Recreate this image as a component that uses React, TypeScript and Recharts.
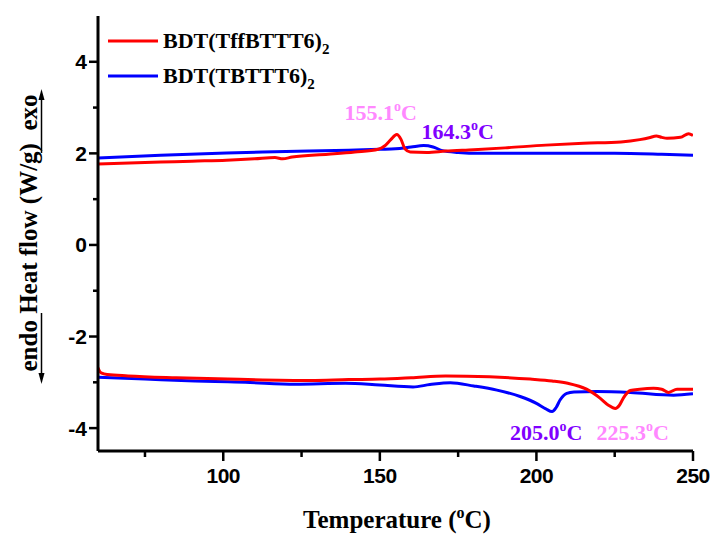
import { LineChart, Line, XAxis, YAxis, Legend, ReferenceDot } from 'recharts';

// heating scan (upper curves), exo up
const upRedT = [60, 70, 80, 90, 101, 110, 116.5, 119, 122, 133.5, 142, 149.5, 151.5, 153.5, 155.4, 156.8, 158, 159.7, 165, 171, 180, 190, 203, 215, 227, 233, 236, 238.3, 240, 241.7, 246, 248.6, 250];
const upRedV = [1.77, 1.79, 1.81, 1.83, 1.85, 1.88, 1.91, 1.88, 1.92, 1.98, 2.03, 2.09, 2.16, 2.3, 2.41, 2.3, 2.1, 2.03, 2.02, 2.05, 2.08, 2.12, 2.18, 2.22, 2.25, 2.3, 2.34, 2.38, 2.35, 2.33, 2.35, 2.43, 2.39];
const upBlueT = [60, 80, 101, 120, 140, 150, 155, 160, 164, 167, 170, 175, 182, 200, 225, 240, 250];
const upBlueV = [1.9, 1.96, 2.01, 2.04, 2.07, 2.09, 2.1, 2.14, 2.17, 2.14, 2.06, 2.02, 2.0, 2.0, 2.0, 1.98, 1.96];

// cooling scan (lower curves)
const downRedT = [60, 60.5, 61.2, 63, 69.6, 85, 101.5, 128, 140, 150, 160, 171, 185, 198, 205, 210, 216, 220.4, 223, 225.2, 226.5, 227.8, 230, 233, 237.4, 240, 242.2, 244.9, 250];
const downRedV = [-2.68, -2.76, -2.8, -2.83, -2.86, -2.9, -2.93, -2.96, -2.94, -2.93, -2.9, -2.86, -2.88, -2.93, -2.97, -3.02, -3.15, -3.35, -3.5, -3.57, -3.5, -3.34, -3.18, -3.15, -3.13, -3.15, -3.22, -3.15, -3.15];
const downBlueT = [60, 75, 91, 101.5, 107, 123, 139, 150, 160.6, 166, 172.5, 180, 187.4, 194.8, 200, 203, 205, 206.3, 207.6, 209.7, 212, 219.3, 230, 243.8, 250];
const downBlueV = [-2.89, -2.93, -2.97, -2.99, -3.0, -3.04, -3.02, -3.06, -3.1, -3.05, -3.01, -3.08, -3.17, -3.31, -3.46, -3.58, -3.64, -3.55, -3.38, -3.24, -3.21, -3.2, -3.22, -3.28, -3.25];

const seriesNames = ['BDT(TffBTTT6)', 'BDT(TBTTT6)'];

const peakTemps = [155.1, 164.3, 205.0, 225.3];
const peakValues = [2.41, 2.17, -3.64, -3.57];

const xTicks = [75, 100, 125, 150, 175, 200, 225, 250];
const xMajor = [100, 150, 200, 250];
const yTicks = [-4, -3, -2, -1, 0, 1, 2, 3, 4];
const yMajor = [-4, -2, 0, 2, 4];
const frameTicks = [1, 2, 3, 4, 5, 6, 7, 8, 9];

const zip = (t: number[], v: number[]) => t.map((x, i) => ({ t: x, v: v[i] }));

const SERIF = '"Liberation Serif", "Times New Roman", serif';
const SANS = '"Liberation Sans", Arial, sans-serif';
const RED = '#ff0000';
const BLUE = '#0000ff';
const PINK = '#ff88ff';
const PURPLE = '#8000ff';

const BottomTick = (props: any) => {
  const { x, y, payload } = props;
  const major = xMajor.includes(payload.value);
  return (
    <g>
      <line x1={x} y1={y} x2={x} y2={y + (major ? 10 : 6)} stroke="#000" strokeWidth={2.5} />
      {major && (
        <text x={x} y={y + 32} textAnchor="middle" fontFamily={SANS} fontWeight="bold" fontSize={21} letterSpacing={-0.5} fill="#000">
          {payload.value}
        </text>
      )}
    </g>
  );
};

const LeftTick = (props: any) => {
  const { x, y, payload } = props;
  const major = yMajor.includes(payload.value);
  return (
    <g>
      <line x1={x} y1={y} x2={x - (major ? 9 : 5)} y2={y} stroke="#000" strokeWidth={2.5} />
      {major && (
        <text x={x - 11} y={y + 7.5} textAnchor="end" fontFamily={SANS} fontWeight="bold" fontSize={21} fill="#000">
          {payload.value}
        </text>
      )}
    </g>
  );
};

const TopTick = (props: any) => (
  <line x1={props.x} y1={props.y} x2={props.x} y2={props.y + 5} stroke="#000" strokeWidth={2.5} />
);

const RightTick = (props: any) => (
  <line x1={props.x} y1={props.y} x2={props.x - 5} y2={props.y} stroke="#000" strokeWidth={2.5} />
);

const YTitle = () => (
  <g>
    <text
      x={37}
      y={233}
      transform="rotate(-90 37 233)"
      textAnchor="middle"
      fontFamily={SERIF}
      fontWeight="bold"
      fontSize={25}
      fill="#000"
      style={{ whiteSpace: 'pre' }}
    >
      endo Heat flow (W/g)  exo
    </text>
    <line x1={41.5} y1={153} x2={41.5} y2={98} stroke="#000" strokeWidth={1.5} />
    <polygon points="41.5,89 38.5,100 44.5,100" fill="#000" />
    <line x1={41.5} y1={313} x2={41.5} y2={374} stroke="#000" strokeWidth={1.5} />
    <polygon points="41.5,384 38.5,373 44.5,373" fill="#000" />
  </g>
);

const XTitle = () => (
  <text x={397} y={528} textAnchor="middle" fontFamily={SERIF} fontWeight="bold" fontSize={25} fill="#000">
    Temperature (
    <tspan fontSize={16} dy={-10}>o</tspan>
    <tspan dy={10}>C)</tspan>
  </text>
);

const LegendBox = () => (
  <svg width={300} height={80} style={{ overflow: 'visible' }}>
    {[RED, BLUE].map((c, i) => (
      <g key={c}>
        <line x1={5} y1={11 + i * 35} x2={55} y2={11 + i * 35} stroke={c} strokeWidth={3} />
        <text x={60} y={18 + i * 35} fontFamily={SERIF} fontWeight="bold" fontSize={22} fill="#000">
          {seriesNames[i]}
          <tspan fontSize={15} dy={6}>2</tspan>
        </text>
      </g>
    ))}
  </svg>
);

const peakLabel = (temp: number, color: string, dx: number, dy: number) => (p: any) => {
  const vb = p.viewBox || {};
  const cx = (vb.x ?? 0) + (vb.width ?? 0) / 2;
  const cy = (vb.y ?? 0) + (vb.height ?? 0) / 2;
  return (
    <text x={cx + dx} y={cy + dy} textAnchor="middle" fontFamily={SERIF} fontWeight="bold" fontSize={22} fill={color}>
      {temp.toFixed(1)}
      <tspan fontSize={14} dy={-9}>o</tspan>
      <tspan dy={9}>C</tspan>
    </text>
  );
};

const peakStyle = [
  { color: PINK, dx: -15, dy: -15 },
  { color: PURPLE, dx: 33, dy: -7 },
  { color: PURPLE, dx: -6, dy: 28 },
  { color: PINK, dx: 17, dy: 32 },
];

export default function App() {
  return (
    <div style={{ position: 'absolute', left: 0, top: 0, background: '#fff' }}>
      <LineChart width={714} height={535} margin={{ top: 16, right: 21, bottom: 44, left: 38 }}>
        <XAxis
          dataKey="t"
          type="number"
          domain={[60, 250]}
          allowDataOverflow
          ticks={xTicks}
          interval={0}
          height={40}
          tickSize={0}
          tickMargin={0}
          tickLine={false}
          tick={<BottomTick />}
          axisLine={{ stroke: '#000', strokeWidth: 3 }}
          label={{ content: () => <XTitle /> }}
        />
        <XAxis
          xAxisId="top"
          orientation="top"
          type="number"
          domain={[0, 10]}
          ticks={frameTicks}
          interval={0}
          height={0}
          tickSize={0}
          tickMargin={0}
          tickLine={false}
          tick={<TopTick />}
          axisLine={{ stroke: '#000', strokeWidth: 3 }}
        />
        <YAxis
          type="number"
          domain={[-4.5, 5]}
          allowDataOverflow
          ticks={yTicks}
          interval={0}
          width={60}
          tickSize={0}
          tickMargin={0}
          tickLine={false}
          tick={<LeftTick />}
          axisLine={{ stroke: '#000', strokeWidth: 3 }}
          label={{ content: () => <YTitle /> }}
        />
        <YAxis
          yAxisId="right"
          orientation="right"
          type="number"
          domain={[0, 10]}
          ticks={frameTicks}
          interval={0}
          width={0}
          tickSize={0}
          tickMargin={0}
          tickLine={false}
          tick={<RightTick />}
          axisLine={{ stroke: '#000', strokeWidth: 3 }}
        />
        <Line data={zip(upBlueT, upBlueV)} dataKey="v" type="monotone" stroke={BLUE} strokeWidth={3} dot={false} isAnimationActive={false} />
        <Line data={zip(upRedT, upRedV)} dataKey="v" type="monotone" stroke={RED} strokeWidth={3} dot={false} isAnimationActive={false} />
        <Line data={zip(downBlueT, downBlueV)} dataKey="v" type="monotone" stroke={BLUE} strokeWidth={3} dot={false} isAnimationActive={false} />
        <Line data={zip(downRedT, downRedV)} dataKey="v" type="monotone" stroke={RED} strokeWidth={3} dot={false} isAnimationActive={false} />
        {peakTemps.map((t, i) => (
          <ReferenceDot
            key={t}
            x={t}
            y={peakValues[i]}
            r={0}
            fill="none"
            stroke="none"
            label={{ content: peakLabel(t, peakStyle[i].color, peakStyle[i].dx, peakStyle[i].dy) }}
          />
        ))}
        <Legend
          layout="vertical"
          align="center"
          verticalAlign="middle"
          wrapperStyle={{ top: 30, left: 103, width: 300, height: 80 }}
          content={() => <LegendBox />}
        />
      </LineChart>
    </div>
  );
}
